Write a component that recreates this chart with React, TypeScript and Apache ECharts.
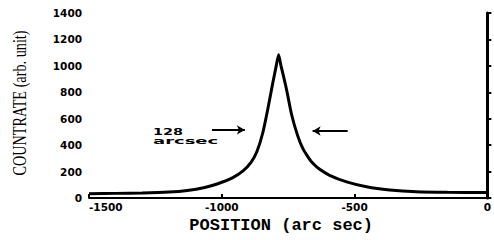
import React, { useEffect, useRef } from "react";
import * as echarts from "echarts";

const xTicks = [-1500, -1000, -500, 0];
const yTicks = [0, 200, 400, 600, 800, 1000, 1200, 1400];

const position = [
  -1500, -1400, -1300, -1200, -1130, -1064, -1015, -960, -920, -890, -868, -846,
  -827, -808, -795, -786, -777, -765, -755, -737, -714, -695, -675, -658, -630,
  -594, -530, -455, -368, -267, -150, 0,
];
const countrate = [
  33, 35, 38, 45, 57, 80, 108, 152, 205, 270, 350, 490, 670, 870, 1000, 1085,
  1000, 900, 810, 630, 470, 375, 310, 265, 215, 172, 122, 85, 61, 47, 43, 42,
];

const arrowLevel = [515, 507];
const leftArrow = [-1037, -913];
const rightArrow = [-526, -658];
const annotation = ["128", "arcsec"];
const xTitle = "POSITION (arc sec)";
const yTitle = "COUNTRATE (arb. unit)";

export default function App() {
  const ref = useRef<HTMLDivElement>(null);
  useEffect(() => {
    if (!ref.current) return;
    const chart = echarts.init(ref.current, null, { renderer: "svg" });
    const labelFont = {
      color: "#000",
      fontFamily: "DejaVu Sans",
      fontWeight: "bold" as const,
      fontSize: 10.5,
    };
    chart.setOption({
      animation: false,
      backgroundColor: "#fff",
      grid: { left: 89, right: 6, top: 13, bottom: 42 },
      xAxis: {
        type: "value",
        min: xTicks[0],
        max: xTicks[xTicks.length - 1],
        interval: xTicks[1] - xTicks[0],
        splitLine: { show: false },
        axisLine: { show: true, lineStyle: { color: "#000", width: 2 } },
        axisTick: { show: true, inside: true, length: 4, lineStyle: { color: "#000", width: 2 } },
        axisLabel: {
          ...labelFont,
          margin: 3,
          alignMinLabel: "left",
          formatter: (v: number) => String(v),
        },
        name: xTitle,
        nameLocation: "middle",
        nameGap: 12,
        nameTextStyle: {
          color: "#000",
          fontFamily: "Liberation Mono",
          fontWeight: "bold",
          fontSize: 17,
          padding: [0, 14, 0, 0],
        },
      },
      yAxis: {
        type: "value",
        min: yTicks[0],
        max: yTicks[yTicks.length - 1],
        interval: yTicks[1] - yTicks[0],
        splitLine: { show: false },
        axisLine: { show: true, lineStyle: { color: "#000", width: 3 } },
        axisTick: { show: true, inside: true, length: 4, lineStyle: { color: "#000", width: 2 } },
        axisLabel: { ...labelFont, margin: 7, formatter: (v: number) => String(v) },
      },
      graphic: [
        {
          type: "text",
          x: 20,
          y: 103,
          rotation: Math.PI / 2,
          scaleX: 0.75,
          style: {
            text: yTitle,
            fill: "#000",
            font: "19px 'Liberation Serif'",
            align: "center",
            verticalAlign: "middle",
          },
        },
        {
          type: "text",
          x: 153,
          y: 127,
          scaleX: 1.6,
          style: {
            text: annotation[0],
            fill: "#000",
            font: "bold 9px 'DejaVu Sans'",
            align: "left",
            verticalAlign: "top",
          },
        },
        {
          type: "text",
          x: 153,
          y: 136,
          scaleX: 2.0,
          style: {
            text: annotation[1],
            fill: "#000",
            font: "bold 9px 'DejaVu Sans'",
            align: "left",
            verticalAlign: "top",
          },
        },
      ],
      series: [
        {
          type: "line",
          data: position.map((p, i) => [p, countrate[i]]),
          showSymbol: false,
          smooth: 0.2,
          lineStyle: { color: "#000", width: 3 },
          markLine: {
            silent: true,
            symbol: ["none", "arrow"],
            symbolSize: [7, 8],
            label: { show: false },
            lineStyle: { color: "#000", width: 2, type: "solid" },
            data: [
              [
                { coord: [leftArrow[0], arrowLevel[0]] },
                { coord: [leftArrow[1], arrowLevel[0]] },
              ],
              [
                { coord: [rightArrow[0], arrowLevel[1]] },
                { coord: [rightArrow[1], arrowLevel[1]] },
              ],
            ],
          },
        },
      ],
    });
    return () => chart.dispose();
  }, []);
  return (
    <div
      ref={ref}
      style={{ position: "fixed", left: 0, top: 0, width: 494, height: 240 }}
    />
  );
}
